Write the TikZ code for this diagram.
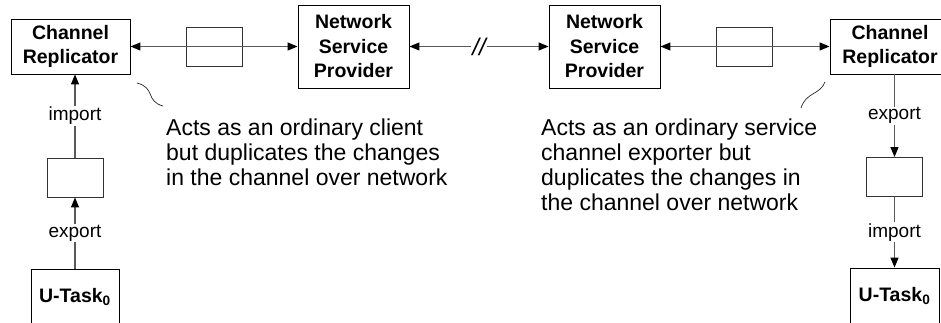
\documentclass[tikz,border=0pt]{standalone}
\usepackage{fontspec}
\setmainfont{Liberation Sans}
\usetikzlibrary{arrows.meta}
\begin{document}
\begin{tikzpicture}[x=1pt,y=-1pt,
  box/.style={draw=black, line width=0.9pt, inner sep=0pt, align=center,
    font=\fontsize{19.5}{24.5}\selectfont\bfseries},
  buf/.style={draw=black!80, line width=0.9pt, minimum width=56pt,
    minimum height=39pt, inner sep=0pt},
  link/.style={draw=black!65, line width=1.2pt},
  tip/.style={-{Triangle[length=10pt,width=8pt,color=black]}},
  twoway/.style={{Triangle[length=10pt,width=8pt,color=black]}-{Triangle[length=10pt,width=8pt,color=black]}},
  lbl/.style={fill=white, inner sep=1pt, font=\fontsize{19}{22}\selectfont},
  note/.style={anchor=north west, inner sep=0pt, align=left,
    font=\fontsize{23}{25}\selectfont},
  squig/.style={draw=black!85, line width=0.7pt}]
\clip (0,0) rectangle (941,323);

% top row
\node[box, minimum width=119pt, minimum height=55pt] (crL) at (70.5,46.5) {Channel\\Replicator};
\node[buf] (bufL) at (214,46.5) {};
\node[box, minimum width=111pt, minimum height=83pt] (nspL) at (353.5,46.5) {Network\\Service\\Provider};
\node[box, minimum width=111pt, minimum height=83pt] (nspR) at (604.5,46.5) {Network\\Service\\Provider};
\node[buf] (bufR) at (744,46.5) {};
\node[box, minimum width=120pt, minimum height=55pt] (crR) at (890,46.5) {Channel\\Replicator};

\draw[link,twoway] (crL) -- (nspL);
\draw[link,twoway] (nspL) -- node[fill=white, inner sep=1pt, font=\fontsize{24}{24}\selectfont\itshape] {//} (nspR);
\draw[link,twoway] (nspR) -- (crR);

% left column
\node[buf] (bufVL) at (75,177.5) {};
\node[box, minimum width=88pt, minimum height=56pt] (utL) at (75,297) {U-Task\textsubscript{0}};
\draw[link,tip] (bufVL.north) -- node[lbl] {import} (bufVL.north |- crL.south);
\draw[link,tip] (utL.north) -- node[lbl] {export} (bufVL.south);

% right column
\node[buf] (bufVR) at (894.5,177) {};
\node[box, minimum width=89pt, minimum height=56pt] (utR) at (894.5,296) {U-Task\textsubscript{0}};
\draw[link,tip] (bufVR.north |- crR.south) -- node[lbl] {export} (bufVR.north);
\draw[link,tip] (bufVR.south) -- node[lbl] {import} (utR.north);

% annotations
\node[note] (noteL) at (166,119) {Acts as an ordinary client\\but duplicates the changes\\in the channel over network};
\node[note] (noteR) at (541,119) {Acts as an ordinary service\\channel exporter but\\duplicates the changes in\\the channel over network};

\coordinate (sqL1) at (137,83);
\coordinate (sqL2) at (163,106);
\draw[squig] (sqL1) .. controls (156,88) and (145,101) .. (sqL2);
\coordinate (sqR1) at (825,82);
\coordinate (sqR2) at (801,108);
\draw[squig] (sqR1) .. controls (820,95) and (806,92) .. (sqR2);
\end{tikzpicture}
\end{document}
